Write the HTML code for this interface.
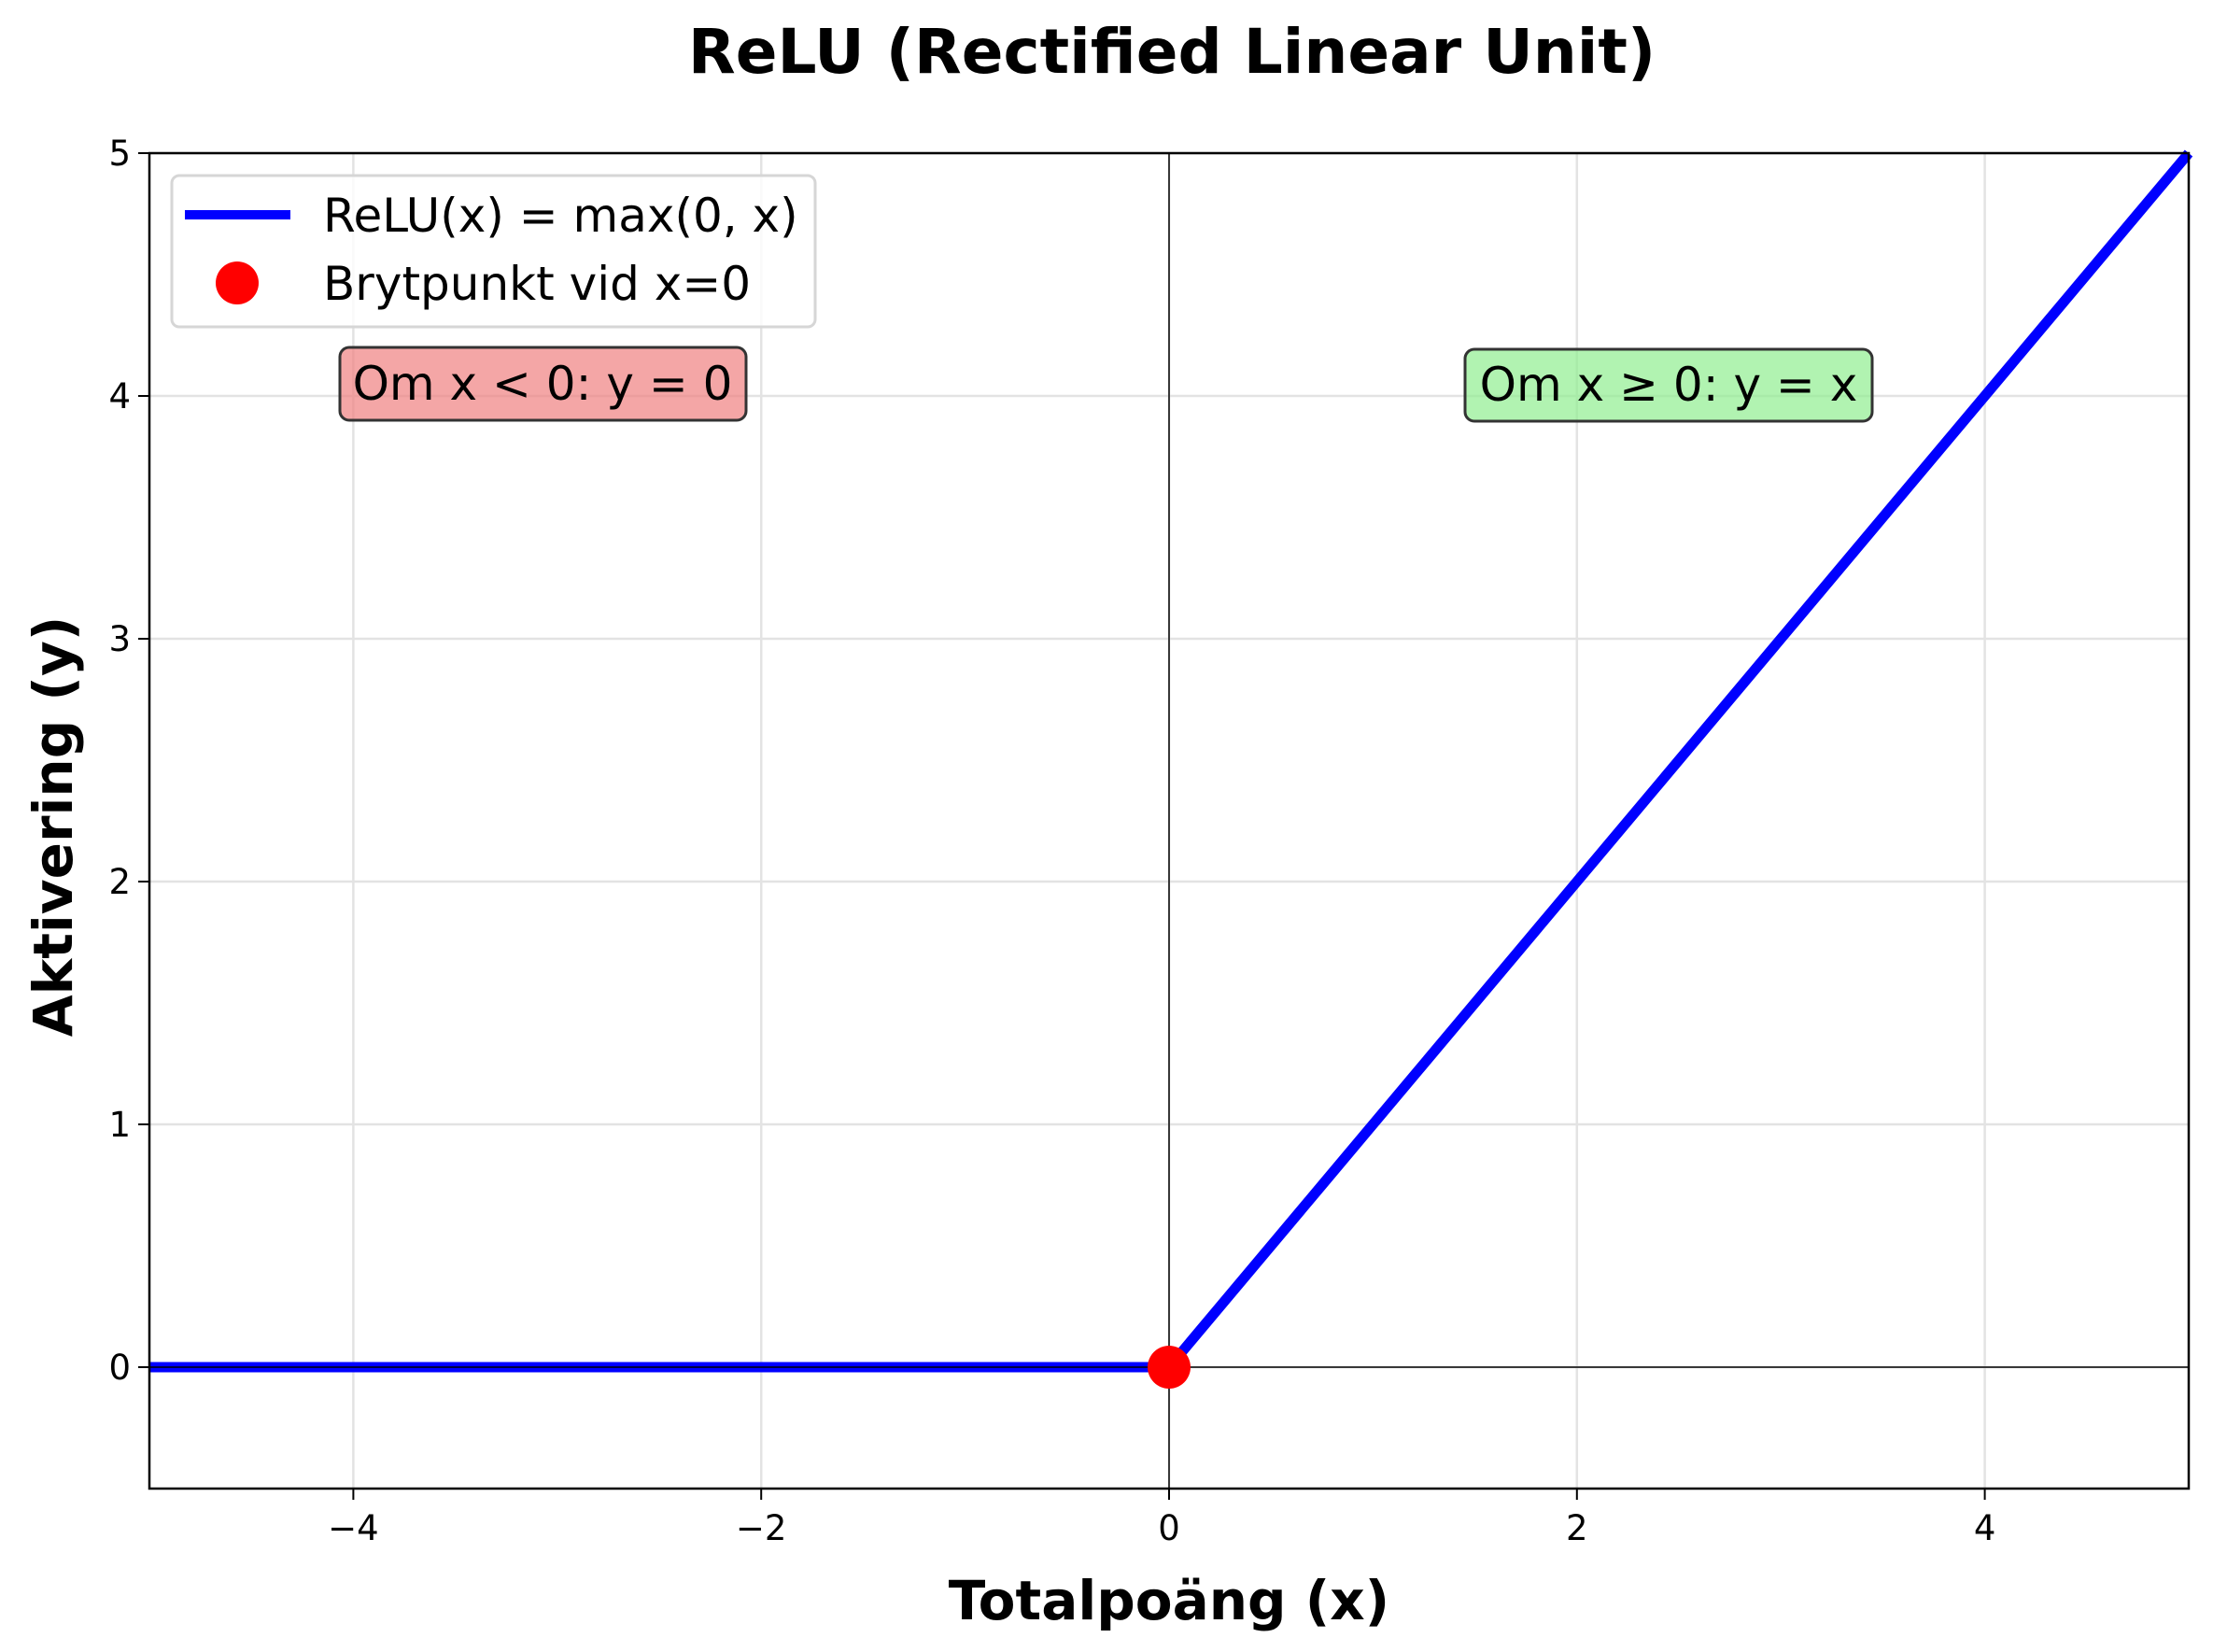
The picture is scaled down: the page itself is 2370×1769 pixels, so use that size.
<!DOCTYPE html>
<html><head><meta charset="utf-8"><style>
html,body{margin:0;padding:0;background:#fff;}
svg{display:block;font-family:"DejaVu Sans","Liberation Sans",sans-serif;}
</style></head><body>
<svg id="chart" width="2370" height="1769" viewBox="0 0 2370 1769">
<text x="1255" y="78" text-anchor="middle" font-size="66" font-weight="bold">ReLU (Rectified Linear Unit)</text>
<g id="grid"></g>
<g id="marks"></g>
<g id="ticks"></g>
<text x="1252" y="1734" text-anchor="middle" font-size="58" font-weight="bold">Totalpoäng (x)</text>
<text x="0" y="0" transform="translate(77,885) rotate(-90)" text-anchor="middle" font-size="58" font-weight="bold">Aktivering (y)</text>
<g>
<rect x="364" y="372" width="435" height="78" rx="10" fill="#ef8080" fill-opacity="0.7" stroke="#333" stroke-width="3"/>
<text x="581" y="428" text-anchor="middle" font-size="50">Om x &lt; 0: y = 0</text>
</g>
<g>
<rect x="1569" y="374" width="436" height="77" rx="10" fill="#90ee90" fill-opacity="0.7" stroke="#333" stroke-width="3"/>
<text x="1787" y="429" text-anchor="middle" font-size="50">Om x ≥ 0: y = x</text>
</g>
<g>
<rect x="184" y="188" width="689" height="162" rx="8" fill="#fff" fill-opacity="0.8" stroke="#d6d6d6" stroke-width="3"/>
<line x1="198" y1="230" x2="311" y2="230" stroke="#0000ff" stroke-width="10"/>
<text x="346" y="248" font-size="50">ReLU(x) = max(0, x)</text>
<circle cx="254" cy="303" r="23" fill="#ff0000"/>
<text x="346" y="321" font-size="50">Brytpunkt vid x=0</text>
</g>
</svg>
<script>
const xTicks = [-4, -2, 0, 2, 4];
const yTicks = [0, 1, 2, 3, 4, 5];
const xTickLabels = ["\u22124", "\u22122", "0", "2", "4"];
const yTickLabels = ["0", "1", "2", "3", "4", "5"];
const reluX = [-5, 0, 5];
const reluY = [0, 0, 5];
const breakX = [0];
const breakY = [0];
const L=160,R=2344,T=164,B=1594;
const xmin=-5,xmax=5,ymin=-0.5,ymax=5;
const sx=v=>L+(v-xmin)/(xmax-xmin)*(R-L);
const sy=v=>B-(v-ymin)/(ymax-ymin)*(B-T);
const NS="http://www.w3.org/2000/svg";
function mk(tag,attrs,parent){const e=document.createElementNS(NS,tag);for(const k in attrs)e.setAttribute(k,attrs[k]);parent.appendChild(e);return e;}
const grid=document.getElementById('grid'),marks=document.getElementById('marks'),ticks=document.getElementById('ticks');
xTicks.forEach(v=>{const g=mk('line',{x1:sx(v),x2:sx(v),y1:T,y2:B,stroke:'#e3e3e3','stroke-width':2.5},grid);

});
yTicks.forEach(v=>{const g=mk('line',{x1:L,x2:R,y1:sy(v),y2:sy(v),stroke:'#e3e3e3','stroke-width':2.5},grid);

});
const ay=mk('line',{x1:sx(0),x2:sx(0),y1:T,y2:B,stroke:'#000','stroke-width':1.5},grid);


const pts=reluX.map((x,i)=>sx(x)+','+sy(reluY[i])).join(' ');
const pl=mk('polyline',{points:pts,fill:'none',stroke:'#0000ff','stroke-width':11},marks);


const ax=mk('line',{x1:L,x2:R,y1:sy(0),y2:sy(0),stroke:'#000','stroke-width':1.5},marks);


breakX.forEach((x,i)=>{const c=mk('circle',{cx:sx(x),cy:sy(breakY[i]),r:23,fill:'#ff0000'},marks);

});
const fr=mk('rect',{x:L,y:T,width:R-L,height:B-T,fill:'none',stroke:'#000','stroke-width':2.5},ticks);


xTicks.forEach((v,i)=>{mk('line',{x1:sx(v),x2:sx(v),y1:B,y2:B+12,stroke:'#000','stroke-width':2},ticks);
const t=mk('text',{x:sx(v),y:B+55,'text-anchor':'middle','font-size':37},ticks);t.textContent=xTickLabels[i];

});
yTicks.forEach((v,i)=>{mk('line',{x1:L-12,x2:L,y1:sy(v),y2:sy(v),stroke:'#000','stroke-width':2},ticks);
const t=mk('text',{x:L-20,y:sy(v)+13,'text-anchor':'end','font-size':37},ticks);t.textContent=yTickLabels[i];

});
</script>
</body></html>
